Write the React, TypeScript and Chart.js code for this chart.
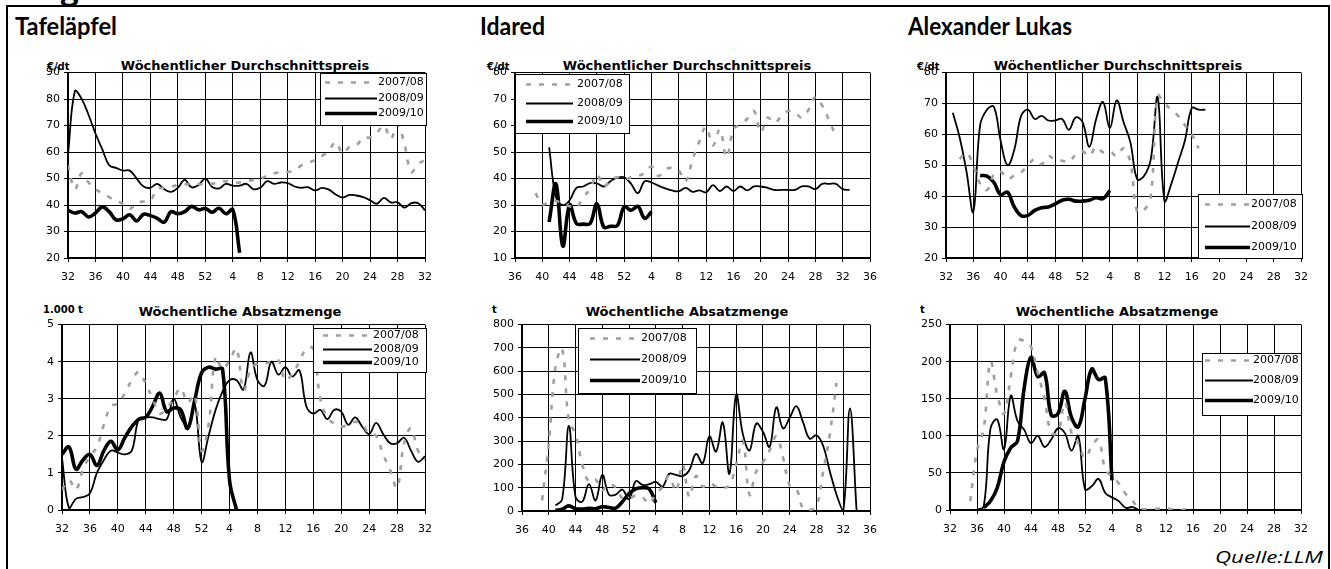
import React, { useEffect, useLayoutEffect, useRef, useState } from 'react';
import { Chart, registerables } from 'chart.js';

Chart.register(...registerables);

// ---------- labels ----------
const seasonLabels = ['2007/08', '2008/09', '2009/10'];
const priceTitle = 'Wöchentlicher Durchschnittspreis';
const qtyTitle = 'Wöchentliche Absatzmenge';
const varieties = ['Tafeläpfel', 'Idared', 'Alexander Lukas'];
const priceUnit = '€/dt';
const qtyUnits = ['1.000 t', 't', 't'];
const sourceText = 'Quelle:LLM';

// first calendar week on each x axis (axis spans 52 weeks, tick every 4 weeks)
const axisStartWeek = [32, 36, 32];
const weekTickStep = 4;
const weekSpan = 52;

// y-axis ranges [min, max, step]
const tafelPriceAxis = [20, 90, 10];
const idaredPriceAxis = [10, 80, 10];
const lukasPriceAxis = [20, 80, 10];
const tafelQtyAxis = [0, 5, 1];
const idaredQtyAxis = [0, 800, 100];
const lukasQtyAxis = [0, 250, 50];

// ---------- data: values per week, starting at the given axis position ----------
// Tafeläpfel, price €/dt (axis starts at week 32)
const tafelPrice0708Start = 0;
const tafelPrice0708 = [55, 46, 52, 48.5, 46, 44.5, 43, 41.5, 40.5, 38.5, 41, 41.3, 41.8, 46, 46.5, 47, 47.5, 47.8, 48, 48, 47.5, 48, 48.5, 49, 48.5, 48.5, 49, 49.5, 50, 51, 52, 52.3, 52.5, 53, 55, 56, 57, 58.5, 60.5, 63.8, 59.5, 62, 62.5, 65.5, 65.5, 67.3, 70, 65, 70.5, 63, 52.5, 55.5, 57];
const tafelPrice0809Start = 0;
const tafelPrice0809 = [59, 83, 80, 74, 67, 61, 55, 54, 53, 53, 50, 47, 46.5, 48, 46, 45, 46.5, 49.5, 46.7, 47.5, 50, 46.8, 46.3, 48, 47.3, 47.3, 48, 46, 46.5, 49, 48, 48.5, 48.3, 47, 46.5, 46.7, 45.5, 46.5, 45.8, 44, 42.8, 43.8, 43.6, 43, 41.8, 40.5, 42.7, 41, 41, 39, 40.7, 40.7, 38];
const tafelPrice0910Start = 0;
const tafelPrice0910 = [38, 37, 37.5, 35.5, 37, 39.3, 37.5, 34.4, 34.8, 36.3, 34, 36.5, 36, 35, 33.5, 37.5, 36.7, 37.5, 39.5, 38.2, 38.7, 37.3, 38.8, 36.7, 38.3, 22];

// Idared, price €/dt (axis starts at week 36)
const idaredPrice0708Start = 3;
const idaredPrice0708 = [34.5, 30.3, 31, 31.5, 30.5, 29.5, 29, 33, 36, 41.5, 37, 39.5, 40.5, 39.5, 40.5, 41, 42, 44.5, 41, 43.5, 44, 43, 39, 47, 54, 59.5, 52.5, 58.5, 48, 58.5, 60.5, 62.5, 65.5, 57.5, 63, 61, 63.5, 65.5, 65, 63, 66, 70.8, 67.5, 62, 56];
const idaredPrice0809Start = 5;
const idaredPrice0809 = [51.8, 33, 30, 31.8, 36.5, 37, 38.3, 38.2, 37, 39, 40.3, 40.5, 38, 34.5, 39, 38.5, 37.3, 36.3, 35.5, 35.2, 36.5, 35, 35.5, 34.8, 37.5, 35.3, 37, 35.3, 37, 35.5, 37, 37, 36.5, 35.7, 35.7, 35.7, 35.7, 37, 37, 36, 38, 38, 38, 36, 35.7];
const idaredPrice0910Start = 5;
const idaredPrice0910 = [23.6, 38, 14.5, 30, 23, 22.8, 23, 30.5, 21.7, 22, 22.3, 29.3, 28, 29.5, 25, 27.5];

// Alexander Lukas, price €/dt (axis starts at week 32)
const lukasPrice0708Start = 2;
const lukasPrice0708 = [52, 54, 50, 44, 42, 47, 48, 45.6, 46.7, 47.7, 50, 52, 50.4, 53, 51.7, 51.5, 51, 53.5, 54.5, 53, 56, 54.2, 54.5, 53, 55.5, 51, 35, 35.5, 40, 72.5, 70, 68, 66, 63, 60, 55.5];
const lukasPrice0809Start = 1;
const lukasPrice0809 = [67, 59, 48, 35, 63, 68, 69, 58, 50, 55, 66, 68, 65, 66, 64.5, 64.5, 65, 61.5, 65.5, 64, 56, 65, 70.5, 62, 71, 64, 57.5, 45.5, 46.5, 52, 72, 38.5, 44, 51, 58, 68.5, 68, 68];
const lukasPrice0910Start = 5;
const lukasPrice0910 = [46.7, 46.5, 44.5, 40.5, 41.3, 36.5, 33.7, 33.8, 35.4, 36.3, 36.5, 37.5, 38.7, 39, 38.4, 38.4, 38.7, 39.5, 39.2, 41.8];

// Tafeläpfel, quantity 1.000 t (axis starts at week 32)
const tafelQty0708Start = 0;
const tafelQty0708 = [0.55, 0.8, 0.55, 1.1, 1.45, 1.7, 2.3, 2.8, 2.87, 3.15, 3.5, 3.72, 3.4, 3.0, 2.6, 2.75, 3.0, 3.28, 2.9, 3.1, 1.6, 2.3, 4.13, 3.8, 4.04, 4.35, 3.23, 3.77, 3.95, 3.95, 4.0, 4.04, 3.5, 3.68, 4.0, 4.35, 4.35, 3.0, 2.5, 2.33, 2.25, 2.3, 2.38, 2.3, 2.06, 2.0, 1.5, 1.08, 0.6, 1.8, 2.2, 1.6, 1.35];
const tafelQty0809Start = 0;
const tafelQty0809 = [1.4, 0.05, 0.3, 0.35, 0.45, 1.0, 1.35, 1.6, 1.55, 1.5, 1.6, 2.45, 2.5, 2.5, 2.45, 2.45, 3.0, 2.5, 2.25, 2.85, 1.3, 2.0, 2.7, 3.2, 3.5, 3.5, 3.25, 4.25, 3.5, 3.35, 4.0, 3.65, 3.85, 3.6, 3.77, 2.8, 2.6, 2.7, 2.45, 2.7, 2.65, 2.3, 2.5, 2.25, 2.05, 2.35, 2.05, 1.8, 1.8, 1.95, 1.6, 1.3, 1.45];
const tafelQty0910Start = 0;
const tafelQty0910 = [1.5, 1.7, 1.1, 1.35, 1.5, 1.2, 1.6, 1.85, 1.62, 1.95, 2.25, 2.45, 2.5, 2.8, 3.15, 2.65, 2.75, 2.7, 2.2, 2.95, 3.7, 3.85, 3.8, 3.8, 0.8, 0];

// Idared, quantity t (axis starts at week 36)
const idaredQty0708Start = 3;
const idaredQty0708 = [46, 290, 617, 696, 390, 330, 200, 125, 135, 90, 117, 100, 55, 55, 65, 60, 30, 74, 103, 150, 85, 200, 60, 150, 105, 120, 105, 100, 110, 200, 300, 70, 170, 210, 260, 320, 230, 110, 95, 10, 5, 20, 170, 330, 550];
const idaredQty0809Start = 5;
const idaredQty0809 = [24, 50, 365, 60, 40, 115, 45, 155, 70, 70, 92, 50, 128, 112, 115, 125, 105, 160, 155, 150, 175, 245, 205, 320, 255, 380, 160, 500, 330, 260, 375, 340, 275, 445, 355, 400, 450, 380, 310, 325, 280, 170, 70, 0, 440, 0];
const idaredQty0910Start = 5;
const idaredQty0910 = [3, 8, 22, 10, 8, 12, 10, 18, 15, 12, 40, 75, 95, 100, 95, 35];

// Alexander Lukas, quantity t (axis starts at week 32)
const lukasQty0708Start = 3;
const lukasQty0708 = [12, 80, 110, 200, 155, 130, 180, 228, 228, 220, 185, 150, 104, 105, 145, 104, 90, 70, 86, 95, 55, 45, 36, 22, 13, 2, 1, 1, 2, 2, 1, 0, 1, 1];
const lukasQty0809Start = 4;
const lukasQty0809 = [0, 5, 110, 122, 82, 154, 120, 108, 90, 100, 85, 95, 110, 104, 80, 100, 28, 32, 42, 23, 17, 12, 3, 4, 0];
const lukasQty0910Start = 5;
const lukasQty0910 = [3, 12, 30, 65, 84, 93, 165, 206, 180, 185, 128, 130, 160, 125, 112, 150, 190, 176, 178, 40];

// ---------- styles ----------
const seasonStyles = [
  { borderColor: '#a0a0a0', borderWidth: 2.6, borderDash: [5, 8] },
  { borderColor: '#000000', borderWidth: 1.8, borderDash: [] },
  { borderColor: '#000000', borderWidth: 3.6, borderDash: [] },
];
const TICK_FONT = { family: '"DejaVu Sans", sans-serif', size: 11 };
const Y_AXIS_W = 45;
const PAD_T = 10;
const PAD_R = 14;
const X_AXIS_H = 34;

const toPoints = (start: number, values: number[]) => values.map((y, k) => ({ x: start + k, y }));
const weekLabel = (startWeek: number, v: number) => String(((startWeek + v - 1) % 52) + 1);

const boxLegendPlugin = {
  id: 'boxLegend',
  afterDatasetsDraw(chart: any, _args: any, opts: any) {
    if (!opts || opts.w == null) return;
    const { ctx, chartArea } = chart;
    const x0 = Math.round(chartArea.left + opts.dx);
    const y0 = Math.round(chartArea.top + opts.dy);
    ctx.save();
    ctx.fillStyle = '#ffffff';
    ctx.fillRect(x0, y0, opts.w, opts.h);
    ctx.strokeStyle = '#000000';
    ctx.lineWidth = 1;
    ctx.setLineDash([]);
    ctx.strokeRect(x0 + 0.5, y0 + 0.5, opts.w - 1, opts.h - 1);
    chart.data.datasets.forEach((ds: any, i: number) => {
      const y = Math.round(y0 + opts.row0 + i * opts.rowGap) + 0.5;
      ctx.beginPath();
      ctx.setLineDash(ds.borderDash || []);
      ctx.lineWidth = ds.borderWidth;
      ctx.strokeStyle = ds.borderColor;
      ctx.moveTo(x0 + opts.line0, y);
      ctx.lineTo(x0 + opts.line1, y);
      ctx.stroke();
      ctx.setLineDash([]);
      ctx.fillStyle = '#000000';
      ctx.font = '11px "DejaVu Sans", sans-serif';
      ctx.textBaseline = 'middle';
      ctx.textAlign = 'left';
      ctx.fillText(ds.label, x0 + opts.text0, y);
    });
    ctx.restore();
  },
};

type PanelDef = {
  plot: [number, number, number, number];
  axisStart: number;
  yAxis: number[];
  series: { start: number; values: number[] }[];
  legend: { box: [number, number, number, number]; row0: number; rowGap: number; line0: number; line1: number; text0: number };
};

const panels: PanelDef[] = [
  {
    plot: [68, 72, 427, 258], axisStart: axisStartWeek[0], yAxis: tafelPriceAxis,
    series: [
      { start: tafelPrice0708Start, values: tafelPrice0708 },
      { start: tafelPrice0809Start, values: tafelPrice0809 },
      { start: tafelPrice0910Start, values: tafelPrice0910 },
    ],
    legend: { box: [320, 72, 107, 53], row0: 9, rowGap: 15.5, line0: 5, line1: 57, text0: 58 },
  },
  {
    plot: [515, 72, 872, 258], axisStart: axisStartWeek[1], yAxis: idaredPriceAxis,
    series: [
      { start: idaredPrice0708Start, values: idaredPrice0708 },
      { start: idaredPrice0809Start, values: idaredPrice0809 },
      { start: idaredPrice0910Start, values: idaredPrice0910 },
    ],
    legend: { box: [515, 73, 115, 60], row0: 10, rowGap: 18.5, line0: 11, line1: 58, text0: 62 },
  },
  {
    plot: [946, 72, 1303, 258], axisStart: axisStartWeek[2], yAxis: lukasPriceAxis,
    series: [
      { start: lukasPrice0708Start, values: lukasPrice0708 },
      { start: lukasPrice0809Start, values: lukasPrice0809 },
      { start: lukasPrice0910Start, values: lukasPrice0910 },
    ],
    legend: { box: [1198, 193, 105, 65], row0: 10, rowGap: 21.5, line0: 7, line1: 52, text0: 53 },
  },
  {
    plot: [62, 324, 427, 510], axisStart: axisStartWeek[0], yAxis: tafelQtyAxis,
    series: [
      { start: tafelQty0708Start, values: tafelQty0708 },
      { start: tafelQty0809Start, values: tafelQty0809 },
      { start: tafelQty0910Start, values: tafelQty0910 },
    ],
    legend: { box: [313, 327, 114, 45], row0: 7, rowGap: 13.5, line0: 10, line1: 59, text0: 60 },
  },
  {
    plot: [522, 324, 872, 511], axisStart: axisStartWeek[1], yAxis: idaredQtyAxis,
    series: [
      { start: idaredQty0708Start, values: idaredQty0708 },
      { start: idaredQty0809Start, values: idaredQty0809 },
      { start: idaredQty0910Start, values: idaredQty0910 },
    ],
    legend: { box: [578, 327, 119, 66], row0: 10, rowGap: 21, line0: 12, line1: 62, text0: 63 },
  },
  {
    plot: [950, 324, 1303, 510], axisStart: axisStartWeek[2], yAxis: lukasQtyAxis,
    series: [
      { start: lukasQty0708Start, values: lukasQty0708 },
      { start: lukasQty0809Start, values: lukasQty0809 },
      { start: lukasQty0910Start, values: lukasQty0910 },
    ],
    legend: { box: [1202, 352, 100, 63], row0: 7, rowGap: 20, line0: 3, line1: 51, text0: 51 },
  },
];

function buildConfig(p: PanelDef): any {
  const [l, t] = p.plot;
  const [lx, ly, lw, lh] = p.legend.box;
  const gridOpts = { color: '#000000', lineWidth: 1, drawTicks: true, tickLength: 4, tickColor: '#000000' };
  const borderOpts = { display: true, color: '#000000', width: 2 };
  return {
    type: 'line',
    data: {
      datasets: p.series.map((s, i) => ({
        label: seasonLabels[i],
        data: toPoints(s.start, s.values),
        ...seasonStyles[i],
        borderCapStyle: 'butt',
        tension: 0.4,
        pointRadius: 0,
        pointHoverRadius: 0,
        fill: false,
        spanGaps: false,
      })),
    },
    options: {
      responsive: false,
      animation: false,
      devicePixelRatio: 1,
      layout: { padding: { top: PAD_T, right: PAD_R, left: 0, bottom: 0 } },
      plugins: {
        legend: { display: false },
        tooltip: { enabled: false },
        boxLegend: {
          dx: lx - l, dy: ly - t, w: lw, h: lh,
          row0: p.legend.row0, rowGap: p.legend.rowGap,
          line0: p.legend.line0, line1: p.legend.line1, text0: p.legend.text0,
        },
      },
      scales: {
        x: {
          type: 'linear',
          min: 0,
          max: weekSpan,
          ticks: {
            stepSize: weekTickStep,
            maxTicksLimit: 100,
            autoSkip: false,
            maxRotation: 0,
            minRotation: 0,
            padding: 9,
            color: '#000000',
            font: TICK_FONT,
            callback: (v: number) => weekLabel(p.axisStart, v),
          },
          grid: gridOpts,
          border: borderOpts,
          afterFit: (s: any) => { s.height = X_AXIS_H; },
        },
        y: {
          min: p.yAxis[0],
          max: p.yAxis[1],
          ticks: {
            stepSize: p.yAxis[2],
            maxTicksLimit: 100,
            padding: 4,
            color: '#000000',
            font: TICK_FONT,
          },
          grid: gridOpts,
          border: borderOpts,
          afterFit: (s: any) => { s.width = Y_AXIS_W; },
        },
      },
    },
    plugins: [boxLegendPlugin],
  };
}

function Panel({ def }: { def: PanelDef }) {
  const ref = useRef<HTMLCanvasElement | null>(null);
  const [l, t, r, b] = def.plot;
  const w = r - l + Y_AXIS_W + PAD_R;
  const h = b - t + PAD_T + X_AXIS_H;
  useEffect(() => {
    if (!ref.current) return;
    const chart = new Chart(ref.current, buildConfig(def));
    return () => chart.destroy();
  }, [def]);
  return (
    <canvas
      ref={ref}
      width={w}
      height={h}
      style={{ position: 'absolute', left: l - Y_AXIS_W, top: t - PAD_T, width: w, height: h }}
    />
  );
}

const abs = (o: any): React.CSSProperties => ({ position: 'absolute', whiteSpace: 'nowrap', margin: 0, ...o });

// text that is stretched horizontally to a measured target width
function FitText({ style, target, children }: { style: any; target: number; children: any }) {
  const ref = useRef<HTMLDivElement | null>(null);
  const [k, setK] = useState(1);
  useLayoutEffect(() => {
    if (!ref.current) return;
    const w = ref.current.getBoundingClientRect().width;
    if (w > 0) setK(target / w);
  }, [target]);
  return (
    <div ref={ref} style={abs({ ...style, transform: `scaleX(${k})`, transformOrigin: 'left top' })}>{children}</div>
  );
}

const headFont = { fontFamily: 'Lato, "Open Sans", sans-serif', fontWeight: 700, fontSize: 24, lineHeight: '24px', color: '#000' };
const titleFont = { fontFamily: '"DejaVu Sans", sans-serif', fontWeight: 700, fontSize: 13, lineHeight: '13px', color: '#000' };
const unitFont = { fontFamily: '"DejaVu Sans", sans-serif', fontWeight: 700, fontSize: 10, lineHeight: '10px', color: '#000' };
const sourceFont = { fontFamily: '"Open Sans", Lato, sans-serif', fontStyle: 'italic', fontSize: 16, lineHeight: '16px', color: '#000' };

const headLeft = [15, 480, 908];
const headWidth = [102, 65, 164];
const titleCenterTop = [245, 687, 1118];
const titleCenterBottom = [240, 687, 1117];
const unitLeftTop = [47, 487, 917];
const unitLeftBottom = [43, 492, 920];

export default function App() {
  return (
    <div style={{ position: 'absolute', left: 0, top: 0, width: 1331, height: 569, overflow: 'hidden', background: '#fff' }}>
      <div style={abs({ left: 60, top: -31, fontFamily: 'Lato, sans-serif', fontWeight: 700, fontSize: 36, lineHeight: '36px' })}>g</div>
      <div style={abs({ left: 6, top: 5, width: 1324, height: 700, boxSizing: 'border-box', borderTop: '2px solid #000', borderLeft: '2px solid #000', borderRight: '2px solid #000' })} />
      {varieties.map((v, i) => (
        <FitText key={'h' + i} target={headWidth[i]} style={{ left: headLeft[i], top: 14, ...headFont }}>{v}</FitText>
      ))}
      {titleCenterTop.map((cx, i) => (
        <div key={'tt' + i} style={abs({ left: cx, top: 59, transform: 'translateX(-50%)', ...titleFont })}>{priceTitle}</div>
      ))}
      {titleCenterBottom.map((cx, i) => (
        <div key={'tb' + i} style={abs({ left: cx, top: 305, transform: 'translateX(-50%)', ...titleFont })}>{qtyTitle}</div>
      ))}
      {unitLeftTop.map((x, i) => (
        <div key={'ut' + i} style={abs({ left: x, top: 62, ...unitFont })}>{priceUnit}</div>
      ))}
      {unitLeftBottom.map((x, i) => (
        <div key={'ub' + i} style={abs({ left: x, top: 305, ...unitFont })}>{qtyUnits[i]}</div>
      ))}
      {panels.map((p, i) => (
        <Panel key={'p' + i} def={p} />
      ))}
      <FitText target={108} style={{ left: 1215, top: 549, ...sourceFont }}>{sourceText}</FitText>
    </div>
  );
}
